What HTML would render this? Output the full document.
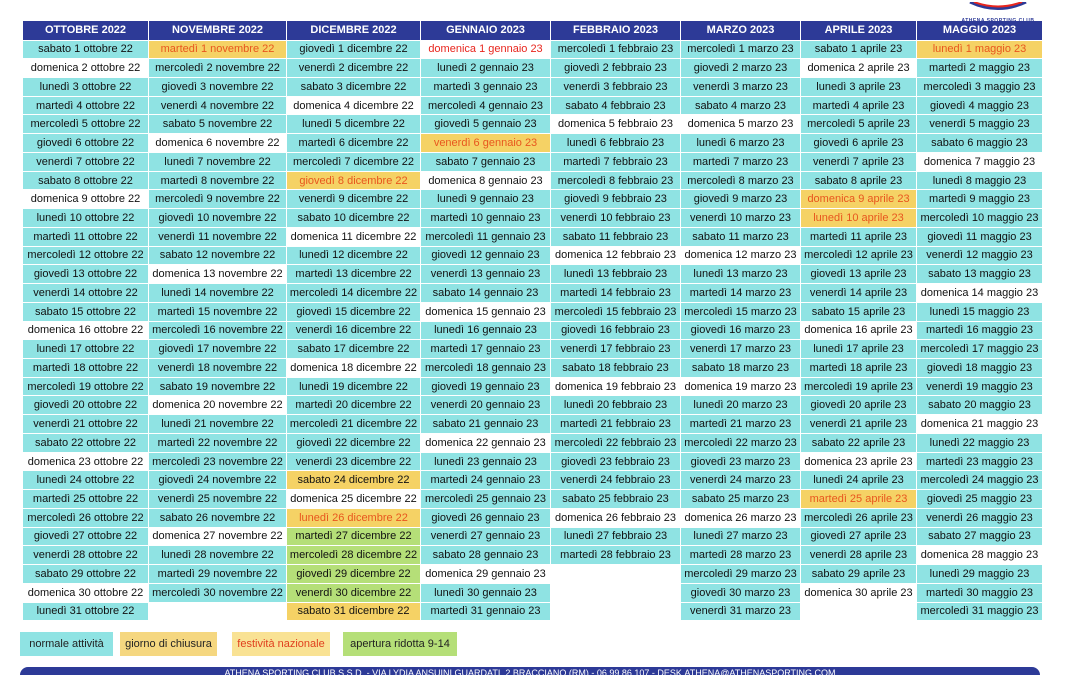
<!DOCTYPE html>
<html><head><meta charset="utf-8"><style>
*{box-sizing:border-box;margin:0;padding:0}
html,body{width:1080px;height:675px;overflow:hidden}
body{background:#fff;position:relative;font-family:"Liberation Sans",Arial,sans-serif}
table{position:absolute;left:22px;top:21px;border-collapse:collapse;table-layout:fixed;width:1020px}
th{background:#2d3a97;color:#fff;font-size:11px;font-weight:bold;height:19px;border:1px solid #fff;border-top:none}
td{background:#8fe3e3;color:#111;font-size:11px;text-align:center;height:18.74px;border:1px solid #fff;white-space:nowrap;overflow:hidden;padding:0}
td.s{background:#fff}
td.f{background:#f5d265;color:#e8561e}
td.fs{background:#fff;color:#e8261e}
td.c{background:#f5d265}
td.g{background:#b5df78}
td.e{background:#fff}
.leg{position:absolute;top:632px;height:24px;font-size:11px;line-height:24px;text-align:center;color:#222}
.foot{position:absolute;left:20px;top:667px;width:1020px;height:20px;background:#2d3a97;border-radius:8px;color:#fff;font-size:9px;line-height:12px;text-align:center}
.logo{position:absolute;left:958px;top:0;width:80px;height:18px}
</style></head><body>
<div class="logo"><svg width="80" height="11"><path d="M12 0 Q40 13 68 0" stroke="#2d3a97" stroke-width="3" fill="none"/><path d="M16 0 Q40 9 64 0" stroke="#e8261e" stroke-width="2" fill="none"/></svg><div style="font-size:5px;font-weight:bold;color:#2d3a97;text-align:center;letter-spacing:.5px">ATHENA SPORTING CLUB</div></div>
<table>
<colgroup><col style="width:126px"><col style="width:138px"><col style="width:134px"><col style="width:130px"><col style="width:130px"><col style="width:120px"><col style="width:116px"><col style="width:126px"></colgroup>
<tr><th>OTTOBRE 2022</th><th>NOVEMBRE 2022</th><th>DICEMBRE 2022</th><th>GENNAIO 2023</th><th>FEBBRAIO 2023</th><th>MARZO 2023</th><th>APRILE 2023</th><th>MAGGIO 2023</th></tr>
<tr><td>sabato 1 ottobre 22</td><td class="f">martedì 1 novembre 22</td><td>giovedì 1 dicembre 22</td><td class="fs">domenica 1 gennaio 23</td><td>mercoledì 1 febbraio 23</td><td>mercoledì 1 marzo 23</td><td>sabato 1 aprile 23</td><td class="f">lunedì 1 maggio 23</td></tr>
<tr><td class="s">domenica 2 ottobre 22</td><td>mercoledì 2 novembre 22</td><td>venerdì 2 dicembre 22</td><td>lunedì 2 gennaio 23</td><td>giovedì 2 febbraio 23</td><td>giovedì 2 marzo 23</td><td class="s">domenica 2 aprile 23</td><td>martedì 2 maggio 23</td></tr>
<tr><td>lunedì 3 ottobre 22</td><td>giovedì 3 novembre 22</td><td>sabato 3 dicembre 22</td><td>martedì 3 gennaio 23</td><td>venerdì 3 febbraio 23</td><td>venerdì 3 marzo 23</td><td>lunedì 3 aprile 23</td><td>mercoledì 3 maggio 23</td></tr>
<tr><td>martedì 4 ottobre 22</td><td>venerdì 4 novembre 22</td><td class="s">domenica 4 dicembre 22</td><td>mercoledì 4 gennaio 23</td><td>sabato 4 febbraio 23</td><td>sabato 4 marzo 23</td><td>martedì 4 aprile 23</td><td>giovedì 4 maggio 23</td></tr>
<tr><td>mercoledì 5 ottobre 22</td><td>sabato 5 novembre 22</td><td>lunedì 5 dicembre 22</td><td>giovedì 5 gennaio 23</td><td class="s">domenica 5 febbraio 23</td><td class="s">domenica 5 marzo 23</td><td>mercoledì 5 aprile 23</td><td>venerdì 5 maggio 23</td></tr>
<tr><td>giovedì 6 ottobre 22</td><td class="s">domenica 6 novembre 22</td><td>martedì 6 dicembre 22</td><td class="f">venerdì 6 gennaio 23</td><td>lunedì 6 febbraio 23</td><td>lunedì 6 marzo 23</td><td>giovedì 6 aprile 23</td><td>sabato 6 maggio 23</td></tr>
<tr><td>venerdì 7 ottobre 22</td><td>lunedì 7 novembre 22</td><td>mercoledì 7 dicembre 22</td><td>sabato 7 gennaio 23</td><td>martedì 7 febbraio 23</td><td>martedì 7 marzo 23</td><td>venerdì 7 aprile 23</td><td class="s">domenica 7 maggio 23</td></tr>
<tr><td>sabato 8 ottobre 22</td><td>martedì 8 novembre 22</td><td class="f">giovedì 8 dicembre 22</td><td class="s">domenica 8 gennaio 23</td><td>mercoledì 8 febbraio 23</td><td>mercoledì 8 marzo 23</td><td>sabato 8 aprile 23</td><td>lunedì 8 maggio 23</td></tr>
<tr><td class="s">domenica 9 ottobre 22</td><td>mercoledì 9 novembre 22</td><td>venerdì 9 dicembre 22</td><td>lunedì 9 gennaio 23</td><td>giovedì 9 febbraio 23</td><td>giovedì 9 marzo 23</td><td class="f">domenica 9 aprile 23</td><td>martedì 9 maggio 23</td></tr>
<tr><td>lunedì 10 ottobre 22</td><td>giovedì 10 novembre 22</td><td>sabato 10 dicembre 22</td><td>martedì 10 gennaio 23</td><td>venerdì 10 febbraio 23</td><td>venerdì 10 marzo 23</td><td class="f">lunedì 10 aprile 23</td><td>mercoledì 10 maggio 23</td></tr>
<tr><td>martedì 11 ottobre 22</td><td>venerdì 11 novembre 22</td><td class="s">domenica 11 dicembre 22</td><td>mercoledì 11 gennaio 23</td><td>sabato 11 febbraio 23</td><td>sabato 11 marzo 23</td><td>martedì 11 aprile 23</td><td>giovedì 11 maggio 23</td></tr>
<tr><td>mercoledì 12 ottobre 22</td><td>sabato 12 novembre 22</td><td>lunedì 12 dicembre 22</td><td>giovedì 12 gennaio 23</td><td class="s">domenica 12 febbraio 23</td><td class="s">domenica 12 marzo 23</td><td>mercoledì 12 aprile 23</td><td>venerdì 12 maggio 23</td></tr>
<tr><td>giovedì 13 ottobre 22</td><td class="s">domenica 13 novembre 22</td><td>martedì 13 dicembre 22</td><td>venerdì 13 gennaio 23</td><td>lunedì 13 febbraio 23</td><td>lunedì 13 marzo 23</td><td>giovedì 13 aprile 23</td><td>sabato 13 maggio 23</td></tr>
<tr><td>venerdì 14 ottobre 22</td><td>lunedì 14 novembre 22</td><td>mercoledì 14 dicembre 22</td><td>sabato 14 gennaio 23</td><td>martedì 14 febbraio 23</td><td>martedì 14 marzo 23</td><td>venerdì 14 aprile 23</td><td class="s">domenica 14 maggio 23</td></tr>
<tr><td>sabato 15 ottobre 22</td><td>martedì 15 novembre 22</td><td>giovedì 15 dicembre 22</td><td class="s">domenica 15 gennaio 23</td><td>mercoledì 15 febbraio 23</td><td>mercoledì 15 marzo 23</td><td>sabato 15 aprile 23</td><td>lunedì 15 maggio 23</td></tr>
<tr><td class="s">domenica 16 ottobre 22</td><td>mercoledì 16 novembre 22</td><td>venerdì 16 dicembre 22</td><td>lunedì 16 gennaio 23</td><td>giovedì 16 febbraio 23</td><td>giovedì 16 marzo 23</td><td class="s">domenica 16 aprile 23</td><td>martedì 16 maggio 23</td></tr>
<tr><td>lunedì 17 ottobre 22</td><td>giovedì 17 novembre 22</td><td>sabato 17 dicembre 22</td><td>martedì 17 gennaio 23</td><td>venerdì 17 febbraio 23</td><td>venerdì 17 marzo 23</td><td>lunedì 17 aprile 23</td><td>mercoledì 17 maggio 23</td></tr>
<tr><td>martedì 18 ottobre 22</td><td>venerdì 18 novembre 22</td><td class="s">domenica 18 dicembre 22</td><td>mercoledì 18 gennaio 23</td><td>sabato 18 febbraio 23</td><td>sabato 18 marzo 23</td><td>martedì 18 aprile 23</td><td>giovedì 18 maggio 23</td></tr>
<tr><td>mercoledì 19 ottobre 22</td><td>sabato 19 novembre 22</td><td>lunedì 19 dicembre 22</td><td>giovedì 19 gennaio 23</td><td class="s">domenica 19 febbraio 23</td><td class="s">domenica 19 marzo 23</td><td>mercoledì 19 aprile 23</td><td>venerdì 19 maggio 23</td></tr>
<tr><td>giovedì 20 ottobre 22</td><td class="s">domenica 20 novembre 22</td><td>martedì 20 dicembre 22</td><td>venerdì 20 gennaio 23</td><td>lunedì 20 febbraio 23</td><td>lunedì 20 marzo 23</td><td>giovedì 20 aprile 23</td><td>sabato 20 maggio 23</td></tr>
<tr><td>venerdì 21 ottobre 22</td><td>lunedì 21 novembre 22</td><td>mercoledì 21 dicembre 22</td><td>sabato 21 gennaio 23</td><td>martedì 21 febbraio 23</td><td>martedì 21 marzo 23</td><td>venerdì 21 aprile 23</td><td class="s">domenica 21 maggio 23</td></tr>
<tr><td>sabato 22 ottobre 22</td><td>martedì 22 novembre 22</td><td>giovedì 22 dicembre 22</td><td class="s">domenica 22 gennaio 23</td><td>mercoledì 22 febbraio 23</td><td>mercoledì 22 marzo 23</td><td>sabato 22 aprile 23</td><td>lunedì 22 maggio 23</td></tr>
<tr><td class="s">domenica 23 ottobre 22</td><td>mercoledì 23 novembre 22</td><td>venerdì 23 dicembre 22</td><td>lunedì 23 gennaio 23</td><td>giovedì 23 febbraio 23</td><td>giovedì 23 marzo 23</td><td class="s">domenica 23 aprile 23</td><td>martedì 23 maggio 23</td></tr>
<tr><td>lunedì 24 ottobre 22</td><td>giovedì 24 novembre 22</td><td class="c">sabato 24 dicembre 22</td><td>martedì 24 gennaio 23</td><td>venerdì 24 febbraio 23</td><td>venerdì 24 marzo 23</td><td>lunedì 24 aprile 23</td><td>mercoledì 24 maggio 23</td></tr>
<tr><td>martedì 25 ottobre 22</td><td>venerdì 25 novembre 22</td><td class="s">domenica 25 dicembre 22</td><td>mercoledì 25 gennaio 23</td><td>sabato 25 febbraio 23</td><td>sabato 25 marzo 23</td><td class="f">martedì 25 aprile 23</td><td>giovedì 25 maggio 23</td></tr>
<tr><td>mercoledì 26 ottobre 22</td><td>sabato 26 novembre 22</td><td class="f">lunedì 26 dicembre 22</td><td>giovedì 26 gennaio 23</td><td class="s">domenica 26 febbraio 23</td><td class="s">domenica 26 marzo 23</td><td>mercoledì 26 aprile 23</td><td>venerdì 26 maggio 23</td></tr>
<tr><td>giovedì 27 ottobre 22</td><td class="s">domenica 27 novembre 22</td><td class="g">martedì 27 dicembre 22</td><td>venerdì 27 gennaio 23</td><td>lunedì 27 febbraio 23</td><td>lunedì 27 marzo 23</td><td>giovedì 27 aprile 23</td><td>sabato 27 maggio 23</td></tr>
<tr><td>venerdì 28 ottobre 22</td><td>lunedì 28 novembre 22</td><td class="g">mercoledì 28 dicembre 22</td><td>sabato 28 gennaio 23</td><td>martedì 28 febbraio 23</td><td>martedì 28 marzo 23</td><td>venerdì 28 aprile 23</td><td class="s">domenica 28 maggio 23</td></tr>
<tr><td>sabato 29 ottobre 22</td><td>martedì 29 novembre 22</td><td class="g">giovedì 29 dicembre 22</td><td class="s">domenica 29 gennaio 23</td><td class="e"></td><td>mercoledì 29 marzo 23</td><td>sabato 29 aprile 23</td><td>lunedì 29 maggio 23</td></tr>
<tr><td class="s">domenica 30 ottobre 22</td><td>mercoledì 30 novembre 22</td><td class="g">venerdì 30 dicembre 22</td><td>lunedì 30 gennaio 23</td><td class="e"></td><td>giovedì 30 marzo 23</td><td class="s">domenica 30 aprile 23</td><td>martedì 30 maggio 23</td></tr>
<tr><td>lunedì 31 ottobre 22</td><td class="e"></td><td class="c">sabato 31 dicembre 22</td><td>martedì 31 gennaio 23</td><td class="e"></td><td>venerdì 31 marzo 23</td><td class="e"></td><td>mercoledì 31 maggio 23</td></tr>
</table>
<div class="leg" style="left:20px;width:93px;background:#8fe3e3">normale attività</div>
<div class="leg" style="left:120px;width:97px;background:#f5d780">giorno di chiusura</div>
<div class="leg" style="left:232px;width:98px;background:#f9e294;color:#e0401e">festività nazionale</div>
<div class="leg" style="left:343px;width:114px;background:#b5df78">apertura ridotta 9-14</div>
<div class="foot">ATHENA SPORTING CLUB S.S.D. - VIA LYDIA ANSUINI GUARDATI, 2 BRACCIANO (RM) - 06 99 86 107 - DESK.ATHENA@ATHENASPORTING.COM</div>
</body></html>
